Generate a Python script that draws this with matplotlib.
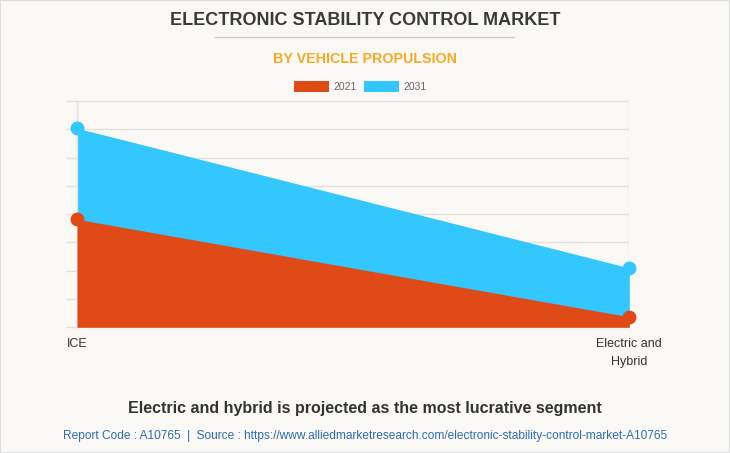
import matplotlib
matplotlib.use("Agg")
import matplotlib.pyplot as plt
from matplotlib.patches import Rectangle
from matplotlib.lines import Line2D

# data (grid units, axis has no value labels)
categories = ["ICE", "Electric and\nHybrid"]
years = ["2021", "2031"]
val_2021 = [3.82, 0.37]
val_2031 = [7.04, 2.10]

BG = "#FAF9F5"
ORANGE = "#DF4A16"
BLUE = "#33C6FF"
GRID = "#E2E0DC"

plt.rcParams["font.family"] = ["Liberation Sans", "DejaVu Sans"]

fig = plt.figure(figsize=(7.3, 4.53), dpi=100)
fig.patch.set_facecolor(BG)
fig.add_artist(Rectangle((0, 0), 1, 1, transform=fig.transFigure, fill=False,
                         edgecolor="#DDDDDD", linewidth=1.5))

ax = fig.add_axes([77 / 730, 1 - 327.3 / 453, (629.3 - 77) / 730, (327.3 - 101) / 453])
ax.set_facecolor(BG)

x = list(range(len(categories)))
ax.fill_between(x, 0, val_2031, color=BLUE, linewidth=0, zorder=2)
ax.fill_between(x, 0, val_2021, color=ORANGE, linewidth=0, zorder=3)
ax.plot(x, val_2031, "o", color=BLUE, markersize=9, zorder=4, clip_on=False)
ax.plot(x, val_2021, "o", color=ORANGE, markersize=9, zorder=5, clip_on=False)

ax.set_xlim(0, len(categories) - 1)
ax.set_ylim(0, 8)
ax.set_yticks(range(0, 9))
ax.set_yticklabels([])
ax.set_xticks(x)
ax.set_xticklabels(categories, fontsize=9, color="#333333", linespacing=1.6)
ax.tick_params(axis="y", length=8, color=GRID, width=1)
ax.tick_params(axis="x", length=0, pad=8)
ax.grid(True, axis="both", color=GRID, linewidth=1, zorder=0)
for s in ["top", "right"]:
    ax.spines[s].set_visible(False)
for s in ["left", "bottom"]:
    ax.spines[s].set_color(GRID)
    ax.spines[s].set_linewidth(1)

# titles
fig.text(0.5, 1 - 20.5 / 453, "ELECTRONIC STABILITY CONTROL MARKET", ha="center", va="center",
         fontsize=13, fontweight="bold", color="#3A3A3A")
fig.add_artist(Line2D([215 / 730, 514 / 730], [1 - 37 / 453] * 2, color="#CCCCCC", linewidth=1))
fig.text(0.5, 1 - 59 / 453, "BY VEHICLE PROPULSION", ha="center", va="center",
         fontsize=10.3, fontweight="bold", color="#F7A824")

# legend
leg_colors = [ORANGE, BLUE]
leg_x = [294, 364]
for yr, c, lx in zip(years, leg_colors, leg_x):
    fig.add_artist(Rectangle((lx / 730, 1 - 92 / 453), 35 / 730, 11 / 453,
                             transform=fig.transFigure, facecolor=c, edgecolor="none"))
    fig.text((lx + 39) / 730, 1 - 86.5 / 453, yr, ha="left", va="center",
             fontsize=7.5, color="#666666")

fig.text(0.5, 1 - 408 / 453, "Electric and hybrid is projected as the most lucrative segment",
         ha="center", va="center", fontsize=11.5, fontweight="bold", color="#333333")
fig.text(0.5, 1 - 436 / 453,
         "Report Code : A10765  |  Source : https://www.alliedmarketresearch.com/electronic-stability-control-market-A10765",
         ha="center", va="center", fontsize=8.6, color="#2D6DB5")

fig.savefig("out.png", dpi=100, facecolor=BG)
